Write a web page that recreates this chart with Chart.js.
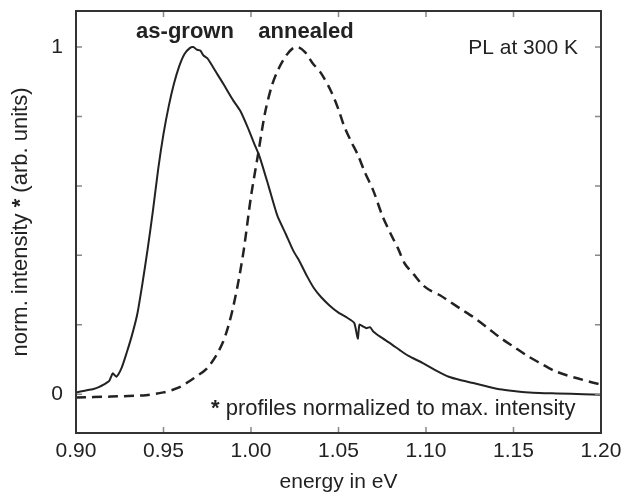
<!DOCTYPE html>
<html>
<head>
<meta charset="utf-8">
<script src="https://cdn.jsdelivr.net/npm/chart.js@4/dist/chart.umd.min.js"></script>
<style>
    html, body { margin: 0; padding: 0; background: #fff; }
    #wrap { width: 638px; height: 498px; }
</style>
</head>
<body>
<div id="wrap"><canvas id="plChart" width="638" height="498"></canvas></div>
<script>
// as-grown (solid)
const grownEnergy = [0.900, 0.905, 0.910, 0.913, 0.916, 0.919, 0.921, 0.923, 0.926, 0.929, 0.932, 0.935, 0.938, 0.941, 0.944, 0.947, 0.950, 0.953, 0.956, 0.959, 0.962, 0.965, 0.967, 0.969, 0.971, 0.973, 0.975, 0.978, 0.981, 0.984, 0.987, 0.990, 0.994, 0.998, 1.002, 1.005, 1.010, 1.015, 1.020, 1.024, 1.028, 1.032, 1.036, 1.040, 1.045, 1.050, 1.055, 1.059, 1.061, 1.062, 1.064, 1.066, 1.068, 1.070, 1.074, 1.080, 1.085, 1.090, 1.098, 1.105, 1.113, 1.120, 1.127, 1.135, 1.142, 1.150, 1.161, 1.175, 1.190, 1.200];
const grownIntensity = [0.005, 0.010, 0.015, 0.020, 0.028, 0.038, 0.060, 0.050, 0.075, 0.120, 0.170, 0.230, 0.320, 0.420, 0.530, 0.650, 0.750, 0.830, 0.895, 0.945, 0.980, 0.997, 1.000, 0.993, 0.990, 0.975, 0.968, 0.945, 0.920, 0.896, 0.870, 0.845, 0.815, 0.770, 0.720, 0.683, 0.600, 0.515, 0.460, 0.415, 0.380, 0.340, 0.305, 0.280, 0.255, 0.235, 0.220, 0.205, 0.160, 0.200, 0.195, 0.190, 0.193, 0.180, 0.165, 0.145, 0.127, 0.110, 0.090, 0.070, 0.050, 0.040, 0.032, 0.022, 0.014, 0.009, 0.004, 0.002, 0.000, -0.002];

// annealed (dashed)
const annealedEnergy = [0.900, 0.920, 0.940, 0.950, 0.955, 0.960, 0.965, 0.970, 0.975, 0.980, 0.984, 0.987, 0.990, 0.993, 0.996, 1.000, 1.004, 1.008, 1.012, 1.016, 1.020, 1.024, 1.027, 1.031, 1.035, 1.040, 1.046, 1.050, 1.053, 1.057, 1.061, 1.065, 1.070, 1.075, 1.080, 1.084, 1.088, 1.093, 1.098, 1.102, 1.108, 1.114, 1.120, 1.127, 1.135, 1.142, 1.150, 1.158, 1.165, 1.173, 1.180, 1.187, 1.194, 1.200];
const annealedIntensity = [-0.010, -0.007, -0.003, 0.005, 0.012, 0.022, 0.038, 0.055, 0.075, 0.110, 0.150, 0.195, 0.255, 0.330, 0.420, 0.570, 0.690, 0.810, 0.890, 0.940, 0.975, 0.997, 1.000, 0.985, 0.955, 0.925, 0.870, 0.820, 0.775, 0.730, 0.690, 0.640, 0.585, 0.515, 0.460, 0.420, 0.375, 0.345, 0.315, 0.300, 0.285, 0.265, 0.245, 0.222, 0.192, 0.164, 0.137, 0.110, 0.090, 0.068, 0.055, 0.045, 0.035, 0.028];

const xTicks = [0.90, 0.95, 1.00, 1.05, 1.10, 1.15, 1.20];
const yTicks = [0, 0.2, 0.4, 0.6, 0.8, 1];
const yTickLabels = ['0', '', '', '', '', '1'];

const fontFamily = "'Liberation Sans', Arial, Helvetica, sans-serif";
const fontSize = 21;
const ink = '#222';

Chart.defaults.font.family = fontFamily;
Chart.defaults.color = ink;

function toPoints(xs, ys) {
    return xs.map((x, i) => ({ x: x, y: ys[i] }));
}

// draws text pieces one after another, bold where asked
function drawRuns(ctx, runs, x, y, size, align) {
    let total = 0;
    runs.forEach(r => {
        ctx.font = (r.bold ? 'bold ' : '') + size + 'px ' + fontFamily;
        r.w = ctx.measureText(r.text).width;
        total += r.w;
    });
    let cx = align === 'center' ? x - total / 2 : x;
    ctx.textAlign = 'left';
    runs.forEach(r => {
        ctx.font = (r.bold ? 'bold ' : '') + size + 'px ' + fontFamily;
        ctx.fillText(r.text, cx, y);
        cx += r.w;
    });
}

const framePlugin = {
    id: 'frame',
    afterDraw(chart) {
        const { ctx, chartArea: a, scales } = chart;
        ctx.save();

        // inward ticks on all four sides
        ctx.strokeStyle = '#888';
        ctx.lineWidth = 1.5;
        ctx.beginPath();
        xTicks.forEach(v => {
            const px = scales.x.getPixelForValue(v);
            ctx.moveTo(px, a.bottom); ctx.lineTo(px, a.bottom - 6);
            ctx.moveTo(px, a.top); ctx.lineTo(px, a.top + 6);
        });
        yTicks.forEach(v => {
            const py = scales.y.getPixelForValue(v);
            ctx.moveTo(a.left, py); ctx.lineTo(a.left + 6, py);
            ctx.moveTo(a.right, py); ctx.lineTo(a.right - 6, py);
        });
        ctx.stroke();

        ctx.strokeStyle = '#333';
        ctx.lineWidth = 2;
        ctx.strokeRect(a.left, a.top, a.right - a.left, a.bottom - a.top);

        ctx.fillStyle = ink;
        ctx.textBaseline = 'middle';
        drawRuns(ctx, [{ text: 'as-grown', bold: true }], 185, 32, 22, 'center');
        drawRuns(ctx, [{ text: 'annealed', bold: true }], 306, 32, 22, 'center');

        ctx.font = fontSize + 'px ' + fontFamily;
        ctx.textAlign = 'right';
        ctx.fillText('PL at 300 K', 578, 48);

        drawRuns(ctx, [
            { text: '*', bold: true },
            { text: ' profiles normalized to max. intensity', bold: false }
        ], 211, 409, 22, 'left');

        // y axis title
        ctx.translate(21, (a.top + a.bottom) / 2);
        ctx.rotate(-Math.PI / 2);
        drawRuns(ctx, [
            { text: 'norm. intensity ', bold: false },
            { text: '*', bold: true },
            { text: ' (arb. units)', bold: false }
        ], 0, 0, 22, 'center');

        ctx.restore();
    }
};

const ctx = document.getElementById('plChart');

new Chart(ctx, {
    type: 'line',
    data: {
        datasets: [
            {
                label: 'as-grown',
                data: toPoints(grownEnergy, grownIntensity),
                borderColor: ink,
                borderWidth: 2,
                pointRadius: 0,
                tension: 0.2,
                fill: false
            },
            {
                label: 'annealed',
                data: toPoints(annealedEnergy, annealedIntensity),
                borderColor: ink,
                borderWidth: 2.5,
                borderDash: [10, 6],
                pointRadius: 0,
                tension: 0.3,
                fill: false
            }
        ]
    },
    options: {
        responsive: false,
        animation: false,
        devicePixelRatio: 1,
        layout: { padding: { top: 11, right: 37, left: 0, bottom: 0 } },
        plugins: {
            legend: { display: false },
            tooltip: { enabled: false }
        },
        scales: {
            x: {
                type: 'linear',
                min: 0.9,
                max: 1.2,
                afterBuildTicks: scale => { scale.ticks = xTicks.map(v => ({ value: v })); },
                afterFit: scale => {
                    scale.height = 65;
                    scale.paddingLeft = 0;
                    scale.paddingRight = 0;
                },
                grid: { display: false, drawTicks: false },
                border: { display: false },
                ticks: {
                    padding: 6,
                    font: { size: fontSize },
                    color: ink,
                    maxRotation: 0,
                    callback: v => v.toFixed(2)
                },
                title: {
                    display: true,
                    text: 'energy in eV',
                    font: { size: fontSize },
                    color: ink,
                    padding: { top: 0, bottom: 3 }
                }
            },
            y: {
                type: 'linear',
                min: -0.112,
                max: 1.104,
                afterBuildTicks: scale => { scale.ticks = yTicks.map(v => ({ value: v })); },
                afterFit: scale => {
                    scale.width = 76;
                    scale.paddingTop = 0;
                    scale.paddingBottom = 0;
                },
                grid: { display: false, drawTicks: false },
                border: { display: false },
                ticks: {
                    padding: 13,
                    font: { size: fontSize },
                    color: ink,
                    callback: (v, i) => yTickLabels[i]
                }
            }
        }
    },
    plugins: [framePlugin]
});
</script>
</body>
</html>
